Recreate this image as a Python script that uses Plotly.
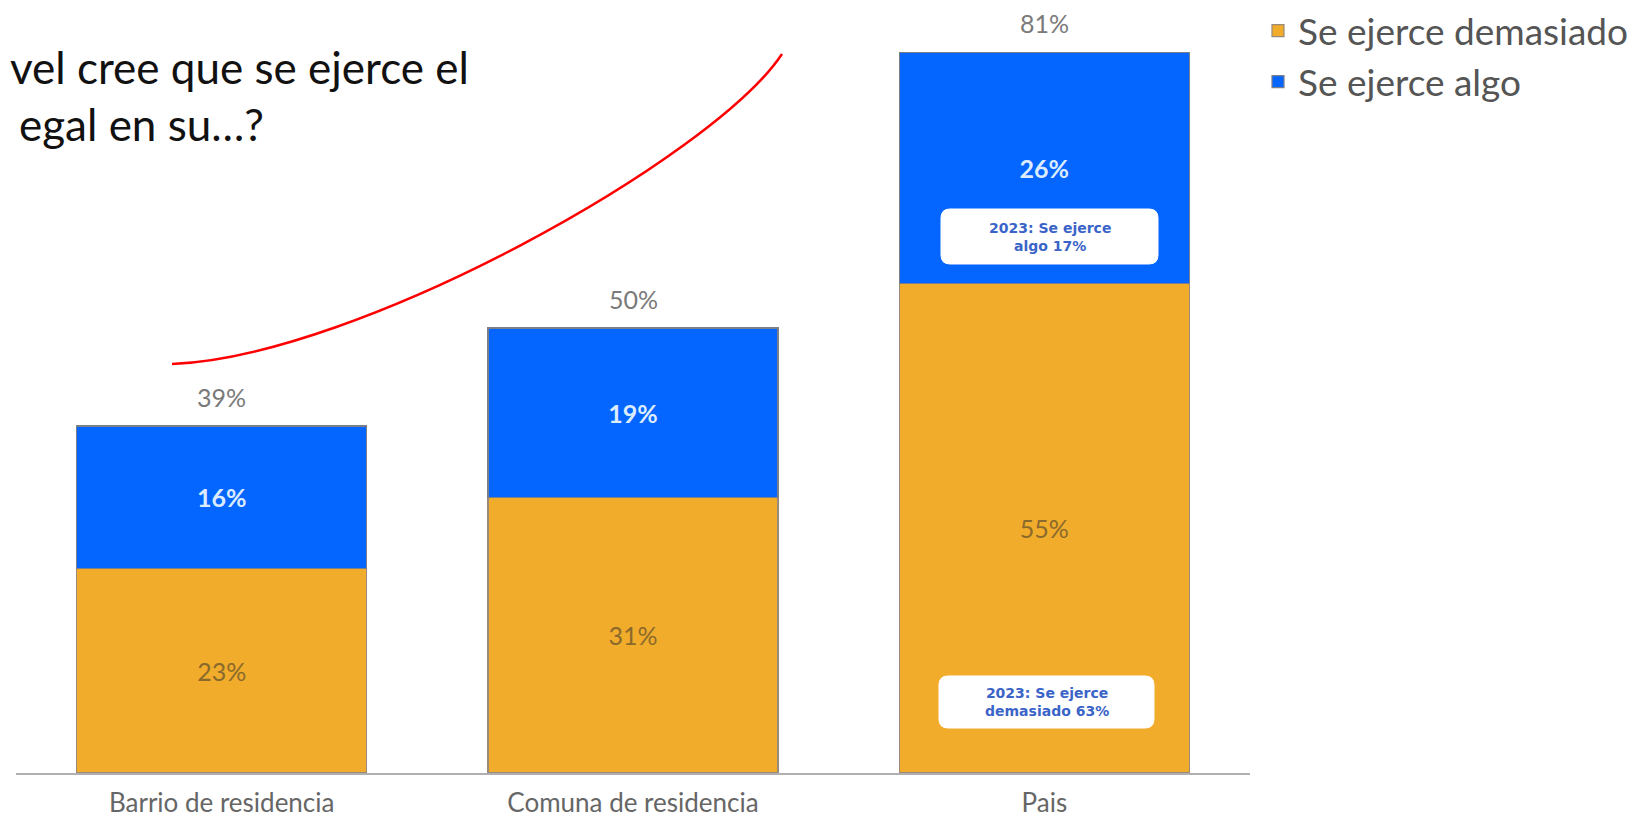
import plotly.graph_objects as go

categories = ["Barrio de residencia", "Comuna de residencia", "Pais"]
demasiado = [23, 31, 55]
algo = [16, 19, 26]
totales = [39, 50, 81]
serie_names = ["Se ejerce demasiado", "Se ejerce algo"]
nota_algo = "2023: Se ejerce<br>algo 17%"
nota_demasiado = "2023: Se ejerce<br>demasiado 63%"
titulo_l1 = "vel cree que se ejerce el"
titulo_l2 = "egal en su…?"

# page body has an 8px default margin; figure sized to fit the window
OFF = 8
W, H = 1640, 808
ML, MR, MT, MB = 8, 398, 0, 43
PW = W - ML - MR
PH = H - MT - MB
YMAX = 85.96

def px(s):
    return (s - OFF - ML) / PW

def py(s):
    return (H - MB - (s - OFF)) / PH

ORANGE = "#F2AC2B"
BLUE = "#0565FF"
FONT = "Lato"

fig = go.Figure()
fig.add_trace(go.Bar(
    x=categories, y=demasiado, name=serie_names[0],
    marker=dict(color=ORANGE, line=dict(color="#9a8a7a", width=1.2)),
    text=[f"{v}%" for v in demasiado], textposition="inside",
    insidetextanchor="middle",
    textfont=dict(family=FONT, size=25, color="#8a6a2c"),
))
fig.add_trace(go.Bar(
    x=categories, y=algo, name=serie_names[1],
    marker=dict(color=BLUE, line=dict(color="#7a7f8a", width=1.2)),
    text=[f"<b>{v}%</b>" for v in algo], textposition="inside",
    insidetextanchor="middle",
    textfont=dict(family=FONT, size=25, color="#dcecff"),
))

for c, t in zip(categories, totales):
    fig.add_annotation(x=c, y=t, text=f"{t}%", showarrow=False,
                       yanchor="bottom", yshift=12,
                       font=dict(family=FONT, size=25, color="#7a7a7a"))

def rounded_rect(x0, y0, x1, y1, r):
    pts = []
    pts.append(f"M {px(x0 + r):.5f},{py(y0):.5f}")
    pts.append(f"L {px(x1 - r):.5f},{py(y0):.5f}")
    pts.append(f"Q {px(x1):.5f},{py(y0):.5f} {px(x1):.5f},{py(y0 + r):.5f}")
    pts.append(f"L {px(x1):.5f},{py(y1 - r):.5f}")
    pts.append(f"Q {px(x1):.5f},{py(y1):.5f} {px(x1 - r):.5f},{py(y1):.5f}")
    pts.append(f"L {px(x0 + r):.5f},{py(y1):.5f}")
    pts.append(f"Q {px(x0):.5f},{py(y1):.5f} {px(x0):.5f},{py(y1 - r):.5f}")
    pts.append(f"L {px(x0):.5f},{py(y0 + r):.5f}")
    pts.append(f"Q {px(x0):.5f},{py(y0):.5f} {px(x0 + r):.5f},{py(y0):.5f} Z")
    return " ".join(pts)

for txt, box in [(nota_algo, (941, 209, 1158, 264)),
                 (nota_demasiado, (939, 676, 1154, 728))]:
    x0, y0, x1, y1 = box
    fig.add_shape(type="path", xref="paper", yref="paper",
                  path=rounded_rect(x0, y0, x1, y1, 9),
                  fillcolor="white", line=dict(color="white", width=1))
    fig.add_annotation(xref="paper", yref="paper", x=px((x0 + x1) / 2),
                       y=py((y0 + y1) / 2), text=f"<b>{txt}</b>",
                       showarrow=False, xanchor="center", yanchor="middle",
                       font=dict(family="DejaVu Sans", size=14, color="#3a64c8"))

fig.add_annotation(xref="paper", yref="paper", x=px(471), y=py(84),
                   xanchor="right", yanchor="bottom", yshift=-11, text=titulo_l1,
                   showarrow=False, font=dict(family=FONT, size=44, color="#111"))
fig.add_annotation(xref="paper", yref="paper", x=px(266), y=py(141),
                   xanchor="right", yanchor="bottom", yshift=-11, text=titulo_l2,
                   showarrow=False, font=dict(family=FONT, size=44, color="#111"))

p0, p1, p2, p3 = (172, 364), (357, 357), (713, 158), (782, 54)
path = "M {:.5f},{:.5f} C {:.5f},{:.5f} {:.5f},{:.5f} {:.5f},{:.5f}".format(
    px(p0[0]), py(p0[1]), px(p1[0]), py(p1[1]),
    px(p2[0]), py(p2[1]), px(p3[0]), py(p3[1]))
fig.add_shape(type="path", xref="paper", yref="paper", path=path,
              line=dict(color="#ff0000", width=2.5))

fig.update_layout(
    width=W, height=H,
    margin=dict(l=ML, r=MR, t=MT, b=MB, autoexpand=False),
    barmode="stack", bargap=0.295,
    plot_bgcolor="white", paper_bgcolor="white",
    font=dict(family=FONT),
    legend=dict(x=px(1258), y=py(0), xanchor="left", yanchor="top",
                traceorder="normal", itemwidth=30,
                font=dict(family=FONT, size=37, color="#555"),
                bgcolor="rgba(0,0,0,0)", tracegroupgap=0),
    xaxis=dict(showline=True, linecolor="#b0b0b0", linewidth=2,
               ticks="", tickfont=dict(family=FONT, size=26, color="#666"),
               ticklabelstandoff=6, range=[-0.5, 2.5]),
    yaxis=dict(range=[0, YMAX], visible=False, showgrid=False),
)

fig.write_html("out.html")
